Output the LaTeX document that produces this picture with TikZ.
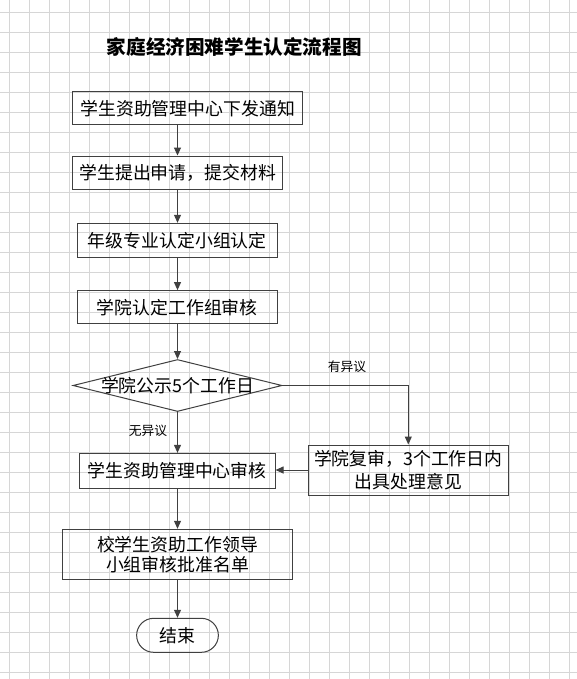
\documentclass[tikz,border=0pt]{standalone}
\usepackage{fontspec}
\usetikzlibrary{shapes.geometric,arrows.meta}
\newfontfamily\cjk{Noto Sans CJK SC}
\newdimen\px \px=0.75pt
\definecolor{gridc}{HTML}{D6D6D6}
\definecolor{linec}{HTML}{404040}
\begin{document}
\begin{tikzpicture}[x=0.75pt,y=-0.75pt,
  gridline/.style={gridc,line width=0.75pt},
  boxnode/.style={draw=linec,line width=0.75pt,rectangle,inner sep=0pt,align=center,
    font=\cjk\fontsize{13.4}{17}\selectfont},
  txt/.style={inner sep=0pt,font=\cjk\fontsize{13.4}{17}\selectfont},
  lbl/.style={inner sep=0pt,font=\cjk\fontsize{9.6}{12}\selectfont},
  arr/.style={draw=linec,line width=0.75pt,-{Triangle[length=6pt,width=5.25pt]}}]
\useasboundingbox (0,0) rectangle (577,679);
\fill[white] (0,0) rectangle (577,679);
\foreach \x in {9,29,...,569} \draw[gridline] (\x,0) -- (\x,679);
\foreach \y in {12,32,...,672} \draw[gridline] (0,\y) -- (577,\y);

\node[inner sep=0pt,font=\cjk\bfseries\fontsize{14.7}{17}\selectfont] (title) at (234.3,47) {家庭经济困难学生认定流程图};

\node[boxnode,minimum width=172.5pt,minimum height=25pt] (b1) at (187.7,108.3) {学生资助管理中心下发通知};
\node[boxnode,minimum width=157.5pt,minimum height=25pt] (b2) at (177.7,172.7) {学生提出申请，提交材料};
\node[boxnode,minimum width=150pt,minimum height=25.5pt] (b3) at (177.3,240.3) {年级专业认定小组认定};
\node[boxnode,minimum width=150pt,minimum height=25pt] (b4) at (177.3,307.3) {学院认定工作组审核};
\node[diamond,draw=linec,line width=0.75pt,inner sep=0pt,minimum width=156.75pt,minimum height=39pt] (d) at (177.5,385.5) {};
\node[txt] (dt) at (d.center) {学院公示5个工作日};
\node[boxnode,minimum width=146.8pt,minimum height=26pt] (b5) at (177.2,470.7) {学生资助管理中心审核};
\node[boxnode,minimum width=150pt,minimum height=37.5pt,font=\cjk\fontsize{13.4}{17.6}\selectfont] (b6) at (408.3,470) {学院复审，3个工作日内\\出具处理意见};
\node[boxnode,minimum width=172.3pt,minimum height=37.5pt,font=\cjk\fontsize{13.4}{15}\selectfont] (b7) at (177.5,554.3) {校学生资助工作领导\\小组审核批准名单};
\node[boxnode,rounded corners=12.75pt,minimum width=61.3pt,minimum height=25.5pt] (e) at (177.5,635.3) {结束};

\node[lbl] (yes) at (347,367) {有异议};
\node[lbl] (no) at (148,431) {无异议};

\draw[arr] (b1.south -| d.north) -- (b2.north -| d.north);
\draw[arr] (b2.south -| d.north) -- (b3.north -| d.north);
\draw[arr] (b3.south -| d.north) -- (b4.north -| d.north);
\draw[arr] (b4.south -| d.north) -- (d.north);
\draw[arr] (d.south) -- (b5.north -| d.south);
\draw[arr] (d.east) -| (b6.north);
\draw[arr] (b6.west) -- (b5.east |- b6.west);
\draw[arr] (b5.south -| d.south) -- (b7.north -| d.south);
\draw[arr] (b7.south -| d.south) -- (e.north);
\end{tikzpicture}
\end{document}
